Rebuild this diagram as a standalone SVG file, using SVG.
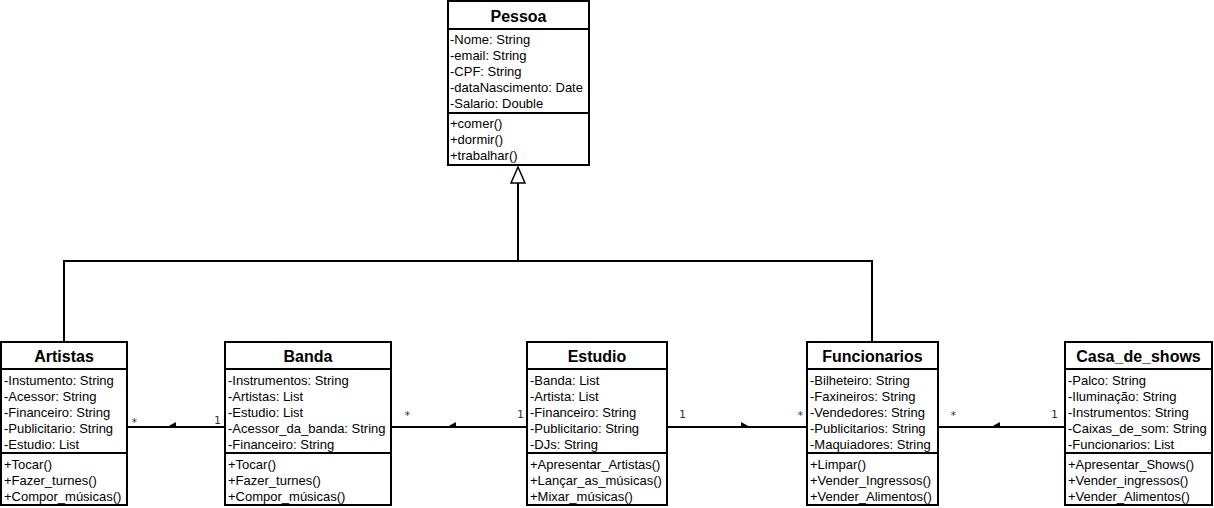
<svg xmlns="http://www.w3.org/2000/svg" width="1214" height="508" viewBox="0 0 1214 508">
<style>
.box{fill:#fff;stroke:#000;stroke-width:2}
.sep{stroke:#000;stroke-width:2}
.title{font-family:"Liberation Sans",Arial,sans-serif;font-weight:bold;font-size:16px;text-anchor:middle;fill:#000}
.t{font-family:"Liberation Sans",Arial,sans-serif;font-size:13px;fill:#000}
.ln{fill:none;stroke:#000;stroke-width:2}
.mult{font-family:"DejaVu Sans Mono",monospace;font-size:11px;fill:#333}
.ah{fill:#000}
</style>
<rect width="1214" height="508" fill="#fff"/>
<g id="connectors">
  <polyline class="ln" points="518,183 518,261"/>
  <polyline class="ln" points="64,341 64,261 872,261 872,341"/>
  <polygon points="518,167 511,183 525,183" fill="#fff" stroke="#000" stroke-width="1.5"/>
  <line class="ln" x1="127" y1="427" x2="225" y2="427"/>
  <polygon class="ah" points="167,427 176,422 176,428"/>
  <text class="mult" x="131" y="426">*</text>
  <text class="mult" x="214" y="424">1</text>
  <line class="ln" x1="391" y1="427" x2="527" y2="427"/>
  <polygon class="ah" points="447,427 456,422 456,428"/>
  <text class="mult" x="404" y="419">*</text>
  <text class="mult" x="517" y="418">1</text>
  <line class="ln" x1="667" y1="427" x2="807" y2="427"/>
  <polygon class="ah" points="750,427 741,422 741,428"/>
  <text class="mult" x="679" y="418">1</text>
  <text class="mult" x="797" y="419">*</text>
  <line class="ln" x1="938" y1="427" x2="1065" y2="427"/>
  <polygon class="ah" points="991,427 1000,422 1000,428"/>
  <text class="mult" x="950" y="419">*</text>
  <text class="mult" x="1051" y="418">1</text>
</g>
<g id="Pessoa">
  <rect class="box" x="448" y="1" width="141" height="164"/>
  <line class="sep" x1="448" y1="29" x2="589" y2="29"/>
  <line class="sep" x1="448" y1="113" x2="589" y2="113"/>
  <text class="title" x="518.5" y="22">Pessoa</text>
  <text class="t" x="450" y="44">-Nome: String</text>
  <text class="t" x="450" y="60">-email: String</text>
  <text class="t" x="450" y="76">-CPF: String</text>
  <text class="t" x="450" y="92">-dataNascimento: Date</text>
  <text class="t" x="450" y="108">-Salario: Double</text>
  <text class="t" x="450" y="128">+comer()</text>
  <text class="t" x="450" y="144">+dormir()</text>
  <text class="t" x="450" y="160">+trabalhar()</text>
</g>
<g id="Artistas">
  <rect class="box" x="1" y="342" width="126" height="163"/>
  <line class="sep" x1="1" y1="369" x2="127" y2="369"/>
  <line class="sep" x1="1" y1="453" x2="127" y2="453"/>
  <text class="title" x="64" y="362">Artistas</text>
  <text class="t" x="4" y="385">-Instumento: String</text>
  <text class="t" x="4" y="401">-Acessor: String</text>
  <text class="t" x="4" y="417">-Financeiro: String</text>
  <text class="t" x="4" y="433">-Publicitario: String</text>
  <text class="t" x="4" y="449">-Estudio: List</text>
  <text class="t" x="4" y="469">+Tocar()</text>
  <text class="t" x="4" y="485">+Fazer_turnes()</text>
  <text class="t" x="4" y="501">+Compor_músicas()</text>
</g>
<g id="Banda">
  <rect class="box" x="225" y="342" width="166" height="163"/>
  <line class="sep" x1="225" y1="369" x2="391" y2="369"/>
  <line class="sep" x1="225" y1="453" x2="391" y2="453"/>
  <text class="title" x="308" y="362">Banda</text>
  <text class="t" x="228" y="385">-Instrumentos: String</text>
  <text class="t" x="228" y="401">-Artistas: List</text>
  <text class="t" x="228" y="417">-Estudio: List</text>
  <text class="t" x="228" y="433">-Acessor_da_banda: String</text>
  <text class="t" x="228" y="449">-Financeiro: String</text>
  <text class="t" x="228" y="469">+Tocar()</text>
  <text class="t" x="228" y="485">+Fazer_turnes()</text>
  <text class="t" x="228" y="501">+Compor_músicas()</text>
</g>
<g id="Estudio">
  <rect class="box" x="527" y="342" width="140" height="163"/>
  <line class="sep" x1="527" y1="369" x2="667" y2="369"/>
  <line class="sep" x1="527" y1="453" x2="667" y2="453"/>
  <text class="title" x="597" y="362">Estudio</text>
  <text class="t" x="530" y="385">-Banda: List</text>
  <text class="t" x="530" y="401">-Artista: List</text>
  <text class="t" x="530" y="417">-Financeiro: String</text>
  <text class="t" x="530" y="433">-Publicitario: String</text>
  <text class="t" x="530" y="449">-DJs: String</text>
  <text class="t" x="530" y="469">+Apresentar_Artistas()</text>
  <text class="t" x="530" y="485">+Lançar_as_músicas()</text>
  <text class="t" x="530" y="501">+Mixar_músicas()</text>
</g>
<g id="Funcionarios">
  <rect class="box" x="807" y="342" width="131" height="163"/>
  <line class="sep" x1="807" y1="369" x2="938" y2="369"/>
  <line class="sep" x1="807" y1="453" x2="938" y2="453"/>
  <text class="title" x="872.5" y="362">Funcionarios</text>
  <text class="t" x="810" y="385">-Bilheteiro: String</text>
  <text class="t" x="810" y="401">-Faxineiros: String</text>
  <text class="t" x="810" y="417">-Vendedores: String</text>
  <text class="t" x="810" y="433">-Publicitarios: String</text>
  <text class="t" x="810" y="449">-Maquiadores: String</text>
  <text class="t" x="810" y="469">+Limpar()</text>
  <text class="t" x="810" y="485">+Vender_Ingressos()</text>
  <text class="t" x="810" y="501">+Vender_Alimentos()</text>
</g>
<g id="Casa_de_shows">
  <rect class="box" x="1065" y="342" width="147" height="163"/>
  <line class="sep" x1="1065" y1="369" x2="1212" y2="369"/>
  <line class="sep" x1="1065" y1="453" x2="1212" y2="453"/>
  <text class="title" x="1138.5" y="362">Casa_de_shows</text>
  <text class="t" x="1068" y="385">-Palco: String</text>
  <text class="t" x="1068" y="401">-Iluminação: String</text>
  <text class="t" x="1068" y="417">-Instrumentos: String</text>
  <text class="t" x="1068" y="433">-Caixas_de_som: String</text>
  <text class="t" x="1068" y="449">-Funcionarios: List</text>
  <text class="t" x="1068" y="469">+Apresentar_Shows()</text>
  <text class="t" x="1068" y="485">+Vender_ingressos()</text>
  <text class="t" x="1068" y="501">+Vender_Alimentos()</text>
</g>
</svg>
